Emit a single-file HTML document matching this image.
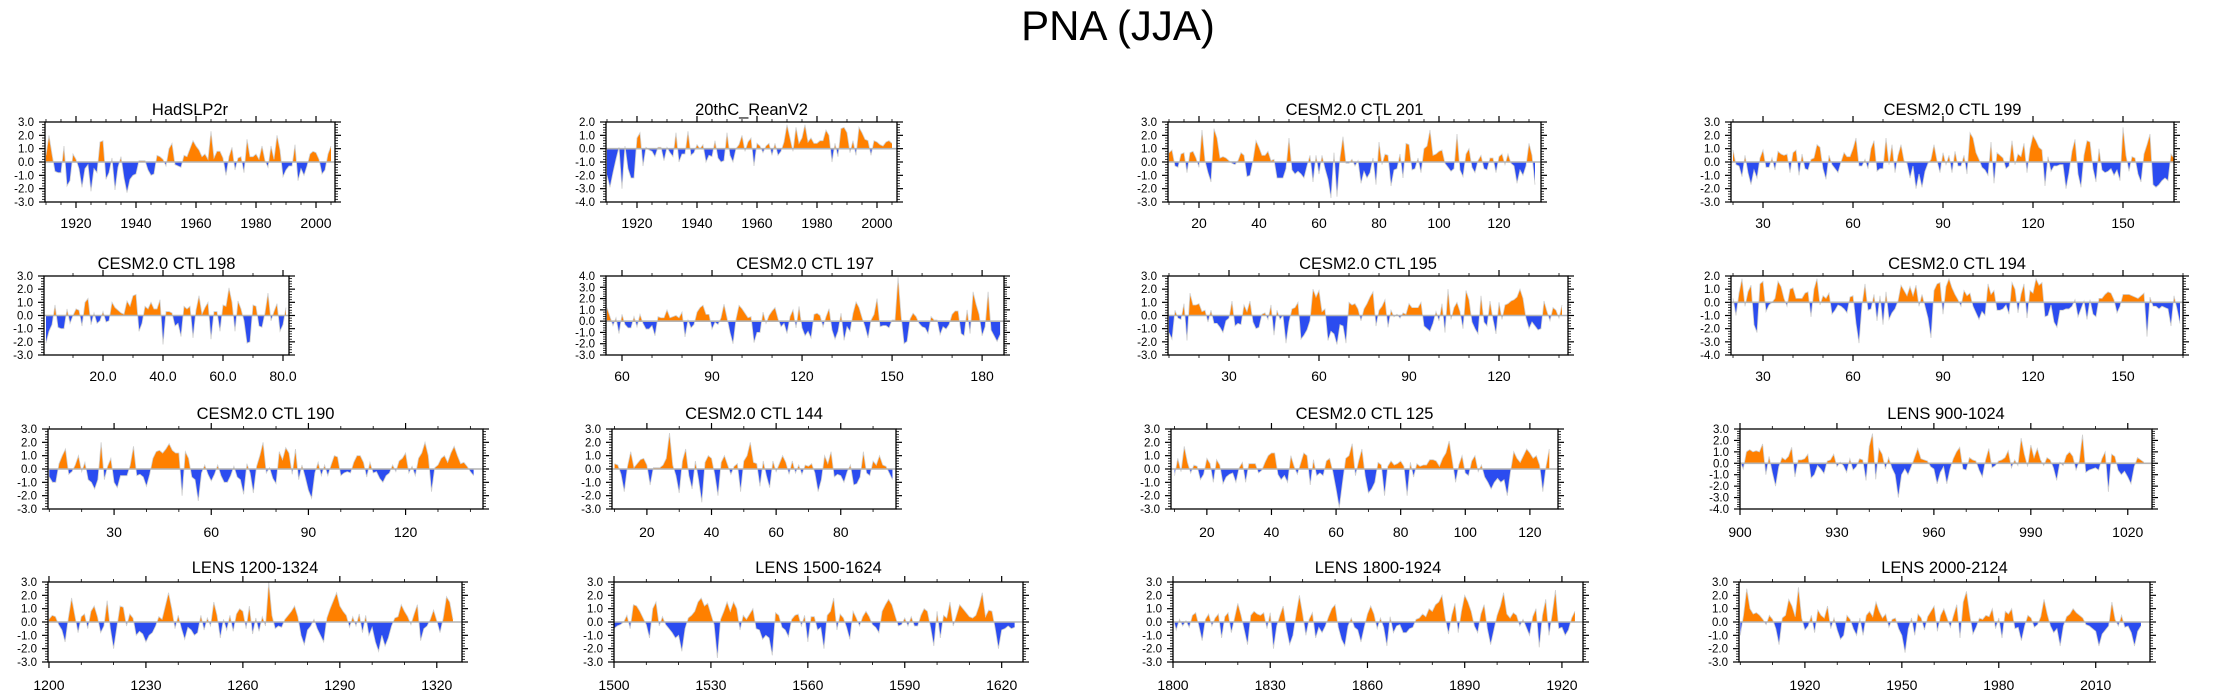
<!DOCTYPE html>
<html><head><meta charset="utf-8"><title>PNA (JJA)</title>
<style>
html,body{margin:0;padding:0;background:#fff;}
svg{display:block;font-family:"Liberation Sans",Arial,sans-serif;}
</style></head>
<body>
<svg id="chart" width="2237" height="698" viewBox="0 0 2237 698" xmlns="http://www.w3.org/2000/svg">
<rect x="0" y="0" width="2237" height="698" fill="#fff"/>
<text x="1118" y="40" font-size="42" text-anchor="middle" fill="#000">PNA (JJA)</text>
</svg>
<script>
const titles = ["HadSLP2r","20thC_ReanV2","CESM2.0 CTL 201","CESM2.0 CTL 199","CESM2.0 CTL 198","CESM2.0 CTL 197","CESM2.0 CTL 195","CESM2.0 CTL 194","CESM2.0 CTL 190","CESM2.0 CTL 144","CESM2.0 CTL 125","LENS 900-1024","LENS 1200-1324","LENS 1500-1624","LENS 1800-1924","LENS 2000-2124"];
const startYears = [1910,1910,10,20,1,55,10,20,10,10,10,900,1200,1500,1800,1900];
const yMaxes = [3,2,3,3,3,4,3,2,3,3,3,3,3,3,3,3];
const yMins = [-3,-4,-3,-3,-3,-3,-3,-4,-3,-3,-3,-4,-3,-3,-3,-3];

const s1 = [0.5,2.0,0.6,-0.7,-0.8,-0.8,1.2,-1.8,-1.4,0.6,
0.2,-0.5,-1.9,-0.5,-0.2,-2.2,-0.5,-0.8,1.5,1.6,
-1.3,-0.8,0.3,-2.1,-0.4,0.4,-1.2,-2.3,-1.3,-1.0,
-0.9,0.1,0.1,0.1,-0.6,-1.0,-0.9,0.5,0.4,0.2,
-0.3,1.0,1.4,-0.2,-0.3,-0.4,0.5,0.4,1.0,1.6,
1.2,0.9,0.4,0.6,0.2,2.3,0.3,0.8,0.8,0.3,
-1.0,0.4,1.1,-0.6,0.3,0.4,-0.8,1.7,0.4,0.4,
0.6,0.2,1.2,0.1,-0.4,1.2,0.2,2.0,0.9,-1.1,
-0.6,-0.3,-0.3,1.3,-1.4,-0.5,-1.0,-0.3,0.6,0.8,
0.7,0.2,-0.9,-0.6,0.6,1.2];
const s2 = [-2.0,-2.9,-1.8,-0.8,0.1,-3.0,0.2,-1.5,-2.2,-2.2,
0.8,1.2,-1.3,0.1,-0.1,-0.2,-0.6,0.1,0.1,-0.9,
0.1,-0.3,-0.6,1.2,-1.0,-0.4,-0.4,1.3,-0.5,-0.3,
0.3,0.0,0.3,-1.0,-0.5,-0.6,0.6,-0.7,-1.0,-0.9,
1.2,-0.5,-1.0,0.0,0.3,1.0,-0.2,0.5,0.8,-1.3,
0.4,0.2,-0.3,0.2,0.4,-0.5,0.4,-0.5,-0.2,0.5,
1.8,0.8,-0.2,1.6,0.4,0.8,1.8,0.5,0.8,0.4,
0.4,0.6,0.6,1.4,1.0,-1.0,0.4,-0.6,1.5,1.6,
1.2,-0.3,0.6,-0.5,1.6,1.2,0.7,0.6,-0.5,0.6,
0.5,0.3,0.2,0.5,0.6,0.4];
const s3 = [0.7,0.9,-0.3,-0.4,0.6,0.7,-0.8,0.7,0.8,0.3,
-0.4,2.4,0.1,-0.8,-1.5,2.5,1.8,0.3,0.4,0.3,
0.1,-0.1,-0.2,0.1,0.7,0.5,-1.1,-1.0,0.1,1.6,
1.1,0.5,0.5,0.8,0.1,0.2,-1.2,-1.2,-1.2,-0.5,
1.8,-0.6,-0.9,-0.7,-0.9,-1.2,-0.3,0.5,-1.5,0.5,
-0.9,0.5,-0.5,-1.3,-2.7,0.7,-2.6,0.3,1.9,-0.1,
-0.1,0.2,-0.3,0.1,-1.6,-0.7,-1.2,-0.8,0.3,-1.7,
1.5,-0.2,0.6,0.5,-1.8,-0.6,-0.5,0.6,-1.2,1.4,
1.3,-0.6,-0.5,0.3,-0.8,1.0,1.2,2.4,0.5,0.6,
0.8,0.9,-0.1,-0.4,-0.7,-0.5,2.1,-0.6,-1.1,0.6,
1.0,-0.4,-0.8,0.1,0.5,-0.5,-0.6,0.3,0.3,-0.8,
0.4,0.6,-0.2,0.6,-0.1,-0.3,-1.6,-0.6,-1.0,-0.3,
1.4,0.5,-1.7];
const s4 = [0.9,-0.2,-0.3,-1.1,0.5,-0.8,-1.7,-0.6,-1.2,0.3,
0.9,-0.4,-0.4,0.3,-0.6,0.8,0.6,0.5,0.6,-0.8,
0.7,0.9,-1.0,0.6,-0.5,-0.6,0.2,0.3,1.3,1.1,
-0.5,-1.3,0.5,-0.2,-0.5,-0.8,0.0,0.7,0.4,0.4,
1.0,1.8,-0.3,-0.3,0.2,-0.5,1.0,1.6,-0.7,-0.5,
-0.5,1.8,-0.2,1.3,-0.8,0.5,1.3,0.1,-0.1,-1.2,
-0.3,-2.0,-0.9,-1.9,-0.7,-0.1,0.2,1.3,0.1,-0.8,
0.7,-0.2,0.5,-0.8,0.8,-0.3,-0.3,0.5,-0.9,2.2,
1.8,0.7,0.2,-0.4,-0.6,-1.0,1.5,-1.6,0.7,0.5,
0.3,-0.5,-0.3,1.6,-0.2,0.6,0.4,1.4,-0.8,1.0,
2.0,1.6,1.1,0.9,-1.8,0.4,-0.7,-0.3,-0.3,-0.2,
-0.2,-2.0,-0.8,0.8,1.7,-0.9,-1.9,0.5,1.6,1.5,
-0.5,-1.5,1.0,-0.6,-0.8,-0.7,-0.5,-1.0,-0.6,-1.4,
2.6,0.5,-0.7,0.4,0.3,-0.9,-1.5,0.6,1.3,2.1,
-1.7,-1.9,-1.7,-1.4,-1.2,-1.4,0.6,0.3];
const s5 = [-2.1,-1.2,-0.7,0.8,-0.9,-1.0,-1.0,0.5,-0.6,0.0,
0.5,0.4,-0.8,1.0,1.3,-0.7,0.2,-0.6,-0.4,0.3,
-0.5,-0.4,1.0,0.6,0.4,0.2,0.1,1.1,0.7,1.5,
1.6,-1.2,-0.6,0.7,0.5,1.0,0.5,0.5,1.2,-2.2,
0.3,0.3,0.2,-0.8,-0.6,-1.6,0.7,0.5,0.7,-1.7,
0.4,1.5,0.1,0.6,1.0,-1.8,0.3,0.3,-1.2,0.8,
0.7,2.1,1.0,-1.2,1.1,0.5,-0.4,-2.1,-2.0,0.8,
0.7,-0.8,-0.9,0.2,1.7,-0.4,0.3,0.9,-1.2,-0.7,0.6];
const s6 = [1.2,0.4,-0.4,0.3,-1.1,
0.6,-0.3,-0.6,-0.6,0.4,-0.5,0.6,-0.2,-0.7,-0.7,
-0.4,-1.3,0.4,0.3,0.3,1.0,0.3,0.4,0.5,0.3,
0.8,-1.4,0.1,-0.6,-0.3,0.8,1.2,1.4,0.6,0.6,
-0.7,-0.1,-0.3,0.3,1.5,0.3,-1.0,-2.0,0.2,1.4,
1.1,0.7,0.3,0.4,-1.9,-1.0,-1.0,0.8,-0.2,0.5,
0.9,1.2,0.2,-0.5,-0.2,-1.1,0.4,1.0,-0.6,1.3,
-0.6,-1.3,-0.9,-1.5,0.6,0.7,0.5,-0.5,0.4,1.1,
-0.8,-1.6,-0.9,0.7,-1.7,-0.5,-0.9,0.7,1.7,1.2,
0.3,-0.5,-1.5,0.1,0.6,2.0,-0.5,-0.4,-0.4,-0.6,
0.1,0.1,3.9,0.5,-2.0,-1.8,0.2,0.7,0.4,-0.2,
-0.5,-0.6,-1.1,0.4,0.1,0.1,-1.2,-0.5,-0.7,-0.3,
0.6,0.9,0.9,-1.1,-1.3,1.0,-1.1,2.6,1.5,0.6,
-1.3,-0.5,2.6,-0.8,-1.3,-1.8,-1.2];
const s7 = [-1.3,-1.8,0.4,-0.2,-0.3,0.9,-1.9,1.7,0.8,0.8,
0.9,0.3,0.4,-0.5,0.4,-0.6,-0.6,-0.9,-1.3,-0.4,
-0.2,1.1,-0.8,-0.6,-0.7,0.8,0.3,1.1,-0.5,-1.0,
-0.9,0.1,0.2,-0.3,0.8,-1.5,0.4,-0.3,0.0,-2.1,
-0.5,0.5,0.6,1.0,-1.8,-1.5,-1.1,-0.4,2.0,1.4,
1.9,0.3,0.5,-1.9,-1.2,-1.4,-2.2,-0.7,-0.8,-2.1,
1.0,0.8,0.9,0.5,-0.4,0.5,0.9,1.4,1.8,-0.8,
0.4,0.7,1.2,-0.9,0.4,-0.1,0.1,-0.2,0.2,0.1,
0.9,0.6,0.6,0.6,1.0,-0.8,-1.0,-1.2,-0.6,0.3,
-0.4,0.9,-1.3,2.0,-0.3,0.6,1.0,0.3,-1.0,1.9,
1.2,-0.5,-1.0,-1.4,1.5,-0.5,-0.8,1.1,-0.3,-1.4,
1.0,-0.3,0.8,0.9,1.1,1.2,1.4,2.0,1.3,-0.2,
-1.0,-0.5,-0.8,-1.1,-1.0,1.1,0.3,-0.4,0.6,0.4,
-0.2,0.8];
const s8 = [0.3,-1.0,0.7,1.8,-0.3,0.8,1.3,-1.7,-2.3,1.4,
1.6,-0.7,-0.2,0.0,0.3,1.6,1.2,0.3,-0.3,1.0,
1.1,0.3,0.3,0.3,0.7,0.8,-1.1,1.0,1.8,-0.2,
0.5,0.3,0.7,-0.9,-0.6,-0.2,-0.3,-0.5,-0.8,0.4,
0.5,-1.6,-3.1,-0.2,1.4,-0.6,-0.5,0.6,-1.4,0.5,
-1.7,0.8,-1.3,-0.8,-0.5,0.1,1.3,0.9,0.5,1.2,
0.5,1.3,-0.3,0.6,-0.3,-1.2,-2.7,0.9,1.4,1.5,
-0.9,1.2,1.8,1.1,0.6,0.2,-0.3,0.9,0.5,0.7,
-0.3,-0.8,-1.3,-0.7,-1.0,1.4,0.6,0.9,-0.6,-0.6,
-0.5,-0.2,-0.9,1.5,1.0,-0.8,0.6,1.4,-1.2,0.9,
0.7,1.8,1.3,1.5,-1.1,-1.0,-0.2,-1.5,-1.9,-0.6,
-0.6,-0.5,-0.5,-0.3,0.2,-1.1,-0.5,0.1,-1.3,0.2,
-0.9,-1.1,0.3,0.3,0.6,0.8,0.7,0.2,-0.8,-0.3,
0.6,0.6,0.6,0.5,0.4,0.3,0.5,0.7,-2.6,0.4,
-0.3,-0.3,-0.5,-0.3,-0.4,-0.5,-1.8,0.5,-0.5,-1.6];
const s9 = [-0.6,-1.0,-1.0,0.4,1.0,1.5,-0.4,-0.2,0.3,1.0,
-0.2,0.5,-0.8,-1.0,-1.5,-0.8,2.0,-0.8,0.2,0.8,
-1.0,-1.4,-0.5,-0.5,-0.5,0.3,1.7,-0.5,-0.4,-0.6,
-1.3,-0.4,0.8,1.3,1.4,1.2,1.5,1.9,1.4,1.2,
1.2,-2.0,1.3,0.8,-0.6,-0.8,-2.4,-0.3,0.3,-0.4,
-0.9,-0.4,0.3,-0.5,-1.0,-1.0,-0.5,0.2,-0.6,-0.8,
-1.9,0.4,-0.3,-1.8,0.2,1.0,2.0,-0.3,0.1,-0.7,
-1.1,1.3,0.7,1.6,1.2,-0.4,1.5,-0.8,0.3,-0.6,
-1.6,-2.2,-0.3,0.5,-0.5,0.3,-0.5,0.3,1.0,0.9,
-0.5,-0.3,-0.2,-0.3,0.5,1.0,1.0,0.5,-0.6,0.5,
-0.3,-0.2,-0.7,-1.0,-0.5,-0.3,0.3,-0.2,0.6,0.8,
1.2,-0.3,0.2,-0.5,0.8,1.2,2.0,1.0,-1.7,0.1,
0.3,0.8,1.0,0.5,1.2,1.7,1.0,0.4,0.5,0.2,
-0.2,-0.5];
const s10 = [0.4,0.3,-0.4,-1.7,0.2,1.3,0.1,0.4,0.7,0.8,
0.3,-1.2,0.1,0.1,0.1,0.3,0.8,2.7,0.3,-0.5,
-1.8,0.6,1.5,-0.5,-1.5,0.6,-0.8,-2.5,0.5,1.0,
0.8,-0.4,-2.0,0.5,1.0,0.3,-0.4,0.2,0.4,-1.7,
0.6,1.0,2.0,0.5,0.4,-1.3,0.6,-0.5,-1.4,0.6,
-0.2,0.4,1.0,0.5,-0.4,0.6,-0.3,0.3,-0.4,0.3,
0.2,0.4,-0.3,-1.7,-0.8,1.0,0.4,1.3,-0.6,-0.4,
-0.5,-1.0,-0.2,0.3,-1.2,-1.1,-0.6,1.3,-0.3,-0.5,
0.6,0.3,1.0,0.3,0.2,-0.3,-0.8];
const s11 = [-0.5,0.8,-0.2,1.7,0.5,-0.3,0.3,0.2,-0.8,-0.4,
0.8,0.4,-1.0,0.7,0.3,-1.1,-0.6,-0.4,-0.3,-1.0,
0.1,0.5,-1.0,0.4,0.4,0.4,-0.3,-0.1,0.5,1.0,
1.2,1.2,-0.4,-0.8,-0.5,-1.0,1.0,0.2,-0.4,0.4,
1.2,1.0,-1.2,0.7,-0.5,-0.3,-0.5,0.6,0.8,-0.2,
-1.5,-2.9,-1.0,0.8,1.0,1.9,-0.5,0.6,1.5,-0.5,
-1.8,-1.5,-1.0,0.5,0.3,-2.0,0.2,0.6,0.3,0.4,
0.6,0.2,-2.0,0.5,-0.6,0.4,0.2,0.3,0.3,0.7,
0.7,0.6,0.2,0.8,1.2,2.1,0.6,-1.0,0.3,1.0,
-0.3,-0.5,0.6,1.0,-0.2,0.3,-0.6,-1.0,-1.5,-1.0,
-0.7,-1.0,-0.8,-2.0,-0.2,1.3,0.8,0.5,1.0,1.5,
1.2,0.8,1.0,0.3,-1.7,0.2,1.5];
const s12 = [0.2,-0.5,1.0,1.2,1.0,1.1,1.0,1.7,-1.0,0.6,
-0.8,-2.0,-0.3,0.5,0.3,0.6,1.4,-1.2,0.3,0.3,
0.4,0.8,-1.3,-1.0,-0.2,-0.5,-0.9,0.2,0.3,0.8,
-0.3,0.1,-0.2,-0.8,0.4,-0.6,-0.3,0.4,0.3,-1.5,
1.5,2.6,-1.4,1.3,0.8,-0.5,0.5,-0.4,-1.0,-3.0,
-1.0,-0.5,-1.0,-0.3,0.5,1.3,0.4,0.3,0.2,-0.3,
-0.5,-1.8,-0.8,-0.3,-1.8,-0.5,0.4,1.0,1.4,-0.5,
-0.6,0.5,0.3,0.2,-0.6,-1.2,0.3,1.3,-0.4,-0.2,
0.2,0.3,0.5,1.1,-0.4,0.3,-0.2,2.2,0.8,-0.3,
1.6,0.5,1.3,0.3,-0.2,0.5,0.3,-0.4,-1.5,0.1,
-0.2,0.7,1.0,0.6,-0.6,0.2,2.5,-0.8,-0.6,-0.5,
-0.4,-0.6,0.4,1.0,-2.5,0.8,0.6,-0.6,-1.0,-0.7,
-1.2,-1.8,-0.3,0.5,0.3,0.1];
const s13 = [0.2,0.5,0.4,-0.2,-0.6,-1.5,0.3,1.8,0.5,-0.8,
0.4,0.6,-0.5,0.8,1.2,0.4,-0.8,-0.3,1.6,-0.5,
-2.0,-0.4,1.2,1.1,-0.3,0.6,0.3,-1.0,-0.7,-0.9,
-1.5,-1.0,-0.8,-0.3,0.4,0.2,1.2,2.2,1.0,-0.5,
0.5,-0.5,-1.3,-0.4,-0.6,-1.0,-0.8,0.5,-0.6,0.3,
-0.3,1.5,0.5,-1.2,0.2,-0.6,0.5,-0.7,0.6,1.0,
0.8,-0.5,1.2,-0.9,0.3,-0.7,0.4,-0.3,3.0,0.5,
-0.5,-0.3,-0.4,0.2,0.5,0.8,1.2,0.4,-1.0,-1.7,
-0.6,-0.3,0.2,-0.5,-1.0,-1.5,0.3,1.0,1.6,2.2,
1.2,0.8,0.5,-0.4,0.4,-0.3,0.6,-0.8,0.5,-1.0,
-0.4,-1.5,-2.2,-1.0,-1.8,-1.2,-0.3,0.3,0.4,1.3,
0.8,0.4,-0.2,0.6,1.3,-1.4,-0.5,-0.3,0.2,0.9,
0.1,-0.8,0.3,1.9,1.5,0.2];
const s14 = [-0.5,-0.3,-0.2,0.0,0.5,-0.5,1.3,1.2,0.8,0.3,
-0.2,-1.2,1.0,1.5,-0.3,0.4,-0.2,-0.5,-0.8,-1.2,
-1.0,-2.2,-0.5,0.3,0.5,0.8,1.5,1.8,1.2,1.4,
0.6,-0.2,-2.7,0.2,0.8,1.5,0.8,1.5,1.0,-0.6,
0.5,0.2,0.6,1.0,-0.5,-0.6,-1.3,-1.0,-1.2,-2.5,
0.7,0.5,-0.4,-0.6,-1.1,0.2,0.5,0.6,-0.3,0.5,
-1.5,0.4,0.4,-0.6,-0.4,-2.0,0.5,0.8,1.8,-0.6,
0.6,0.3,-0.4,-1.3,0.8,0.3,-0.3,0.4,0.8,0.4,
-0.2,-0.4,-0.8,0.8,1.3,1.7,1.3,0.5,-0.3,-0.2,
0.3,-0.3,0.4,-0.3,-0.3,0.5,1.0,0.8,-0.4,-1.8,
0.8,-1.2,0.5,0.3,1.5,-0.3,0.5,1.3,1.0,0.7,
0.4,0.3,0.5,1.2,2.2,0.4,0.9,0.8,-0.5,-2.0,
-0.6,-0.5,-0.3,-0.5,-0.4];
const s15 = [0.3,-0.6,0.2,-0.3,0.1,-0.4,0.5,0.7,-0.3,-1.4,
0.2,0.6,-0.3,0.3,0.6,-1.2,0.4,0.7,-0.8,0.3,
1.4,0.5,-0.6,-1.7,0.5,0.8,0.6,0.5,0.7,-0.5,
0.7,-2.0,-0.3,0.5,1.2,-0.5,-1.7,-1.0,0.6,2.0,
0.6,-1.0,0.2,0.7,-1.2,-0.4,-0.8,-0.3,0.4,1.0,
1.3,-0.4,-1.3,-1.8,-0.3,0.3,-0.4,-0.6,-1.5,-0.4,
0.6,1.2,0.6,-0.5,0.3,-0.4,-1.8,0.4,-0.8,-0.3,
-0.2,-0.8,-0.8,-0.5,-0.4,0.2,0.3,0.6,0.4,1.0,
0.8,1.3,1.5,2.0,0.3,-0.9,0.5,1.4,-0.8,0.8,
2.0,1.5,0.8,-0.3,-0.8,0.6,1.3,-0.5,-1.7,-0.6,
0.5,1.2,2.2,0.6,0.3,0.7,0.5,-0.3,0.2,-0.4,
-1.0,0.4,1.0,-1.9,0.5,1.7,-1.0,0.6,2.4,-0.5,
-0.4,-1.0,-0.6,0.3,0.8];
const s16 = [-1.0,0.5,2.5,1.0,0.6,0.7,0.5,0.2,-0.2,0.5,
0.2,-0.5,-1.7,0.3,0.5,1.7,1.2,0.4,2.6,0.3,
-0.6,-0.3,0.5,-0.8,0.9,0.5,0.3,1.2,-0.5,0.3,
-0.6,-1.3,-1.0,0.5,0.2,-0.5,-1.0,0.3,-1.0,0.5,
0.8,0.4,1.5,0.8,0.3,0.6,-0.4,0.2,0.3,-0.5,
-1.0,-2.3,-0.5,0.3,-1.0,0.6,0.3,-0.6,0.4,0.8,
1.2,-0.7,0.5,1.0,0.3,-0.4,0.5,1.3,-1.2,1.5,
2.3,0.6,-0.9,-0.4,0.3,0.2,0.5,0.4,1.0,-0.5,
0.3,-1.2,0.8,0.6,1.0,-0.5,-0.4,-1.4,-0.3,0.5,
0.3,-0.4,-0.2,0.4,1.7,0.6,-0.3,-0.8,-0.5,-1.8,
-0.3,0.4,0.6,1.0,0.7,0.5,0.3,-0.2,-0.3,-0.5,
-0.7,-1.8,-0.9,-0.6,-0.3,1.5,0.2,-0.3,0.5,-0.4,
-0.3,-0.8,-1.8,-0.7,-0.3];
const seriesList = [s1,s2,s3,s4,s5,s6,s7,s8,s9,s10,s11,s12,s13,s14,s15,s16];

// layout (pixel geometry, not data)
const rowTop = [122,276,429,582];
const rowBot = [202,355,509,662];
const rowTitleY = [115,269,419,573];
const rowLabelY = [228,381,537,690];
const layout = [
 {r:0,L:45,R:335,xmin:1909.67,xmax:2006.33,maj:20,mn:5},
 {r:0,L:606,R:897,xmin:1909.67,xmax:2006.67,maj:20,mn:5},
 {r:0,L:1168,R:1541,xmin:9.67,xmax:134,maj:20,mn:5},
 {r:0,L:1731,R:2174,xmin:19.33,xmax:167,maj:30,mn:10},
 {r:1,L:44,R:289,xmin:0.33,xmax:82,maj:20,mn:10,dec:true},
 {r:1,L:606,R:1004,xmin:54.67,xmax:187.3,maj:30,mn:10},
 {r:1,L:1168,R:1568,xmin:9.67,xmax:143,maj:30,mn:10},
 {r:1,L:1731,R:2183,xmin:19.33,xmax:170,maj:30,mn:10},
 {r:2,L:48,R:483,xmin:9.6,xmax:143.9,maj:30,mn:10},
 {r:2,L:612,R:896,xmin:9.2,xmax:97.1,maj:20,mn:10},
 {r:2,L:1171,R:1558,xmin:8.9,xmax:128.7,maj:20,mn:10},
 {r:2,L:1740,R:2152,xmin:900,xmax:1027.5,maj:30,mn:10},
 {r:3,L:48,R:462,xmin:1199.7,xmax:1327.8,maj:30,mn:10},
 {r:3,L:614,R:1023,xmin:1500,xmax:1626.6,maj:30,mn:10},
 {r:3,L:1173,R:1583,xmin:1800,xmax:1926.5,maj:30,mn:10},
 {r:3,L:1739,R:2150,xmin:1899.6,xmax:2026.8,maj:30,mn:10}
];

const NS = "http://www.w3.org/2000/svg";
const svg = document.getElementById('chart');
function mk(tag, attrs, parent){
  const e = document.createElementNS(NS, tag);
  for (const k in attrs) e.setAttribute(k, attrs[k]);
  (parent||svg).appendChild(e);
  return e;
}

layout.forEach((c, i) => {
  const T = rowTop[c.r], B = rowBot[c.r], L = c.L, R = c.R;
  const ymax = yMaxes[i], ymin = yMins[i];
  const sx = v => L + (v - c.xmin) / (c.xmax - c.xmin) * (R - L);
  const sy = v => T + (ymax - v) / (ymax - ymin) * (B - T);
  const g = mk('g', {});
  
  

  const defs = mk('defs', {}, g);
  const z = sy(0);
  const cpA = mk('clipPath', {id:'ca'+i}, defs);
  mk('rect', {x:L, y:T, width:R-L, height:z-T}, cpA);
  const cpB = mk('clipPath', {id:'cb'+i}, defs);
  mk('rect', {x:L, y:z, width:R-L, height:B-z}, cpB);
  const cpBox = mk('clipPath', {id:'cx'+i}, defs);
  mk('rect', {x:L, y:T, width:R-L, height:B-T}, cpBox);

  const vals = seriesList[i];
  const st = startYears[i];
  let d = 'M' + sx(st).toFixed(2) + ',' + z.toFixed(2);
  let line = '';
  vals.forEach((v, k) => {
    const px = sx(st + k).toFixed(2), py = sy(v).toFixed(2);
    d += ' L' + px + ',' + py;
    line += (k ? ' L' : 'M') + px + ',' + py;
  });
  d += ' L' + sx(st + vals.length - 1).toFixed(2) + ',' + z.toFixed(2) + ' Z';

  const dg = mk('g', {'clip-path':'url(#cx'+i+')'}, g);
  const pos = mk('path', {d:d, fill:'#ff8000', 'clip-path':'url(#ca'+i+')'}, dg);
  
  
  const neg = mk('path', {d:d, fill:'#2b4cf0', 'clip-path':'url(#cb'+i+')'}, dg);
  
  
  const ln = mk('path', {d:line, fill:'none', stroke:'#cfcfcf', 'stroke-width':0.8}, dg);
  
  
  const zl = mk('line', {x1:L, x2:R, y1:z, y2:z, stroke:'#b4b4b4', 'stroke-width':1.6}, g);
  
  

  for (let v = ymin; v <= ymax + 1e-6; v += 0.2) {
    const vv = Math.round(v * 10) / 10;
    const y = sy(vv);
    const major = Math.abs(vv - Math.round(vv)) < 1e-6;
    const len = major ? 6 : 3;
    mk('line', {x1:L-len, x2:L, y1:y, y2:y, stroke:'#000', 'stroke-width':major?1.2:0.8}, g);
    mk('line', {x1:R, x2:R+len, y1:y, y2:y, stroke:'#000', 'stroke-width':major?1.2:0.8}, g);
    if (major) {
      const t = mk('text', {x:L-11, y:y+4, 'font-size':11.5, 'text-anchor':'end', fill:'#000'}, g);
      
      
      t.textContent = vv.toFixed(1);
    }
  }
  for (let v = Math.ceil(c.xmin / c.mn) * c.mn; v <= c.xmax; v += c.mn) {
    const x = sx(v);
    const major = v % c.maj === 0;
    const len = major ? 6 : 3;
    mk('line', {x1:x, x2:x, y1:B, y2:B+len, stroke:'#000', 'stroke-width':major?1.2:0.8}, g);
    mk('line', {x1:x, x2:x, y1:T-len, y2:T, stroke:'#000', 'stroke-width':major?1.2:0.8}, g);
    if (major) {
      const t = mk('text', {x:x, y:rowLabelY[c.r], 'font-size':14, 'text-anchor':'middle', fill:'#000'}, g);
      
      
      t.textContent = c.dec ? v.toFixed(1) : String(v);
    }
  }
  const box = mk('rect', {x:L, y:T, width:R-L, height:B-T, fill:'none', stroke:'#000', 'stroke-width':1.3}, g);
  
  
  const tt = mk('text', {x:(L+R)/2, y:rowTitleY[c.r], 'font-size':16.5, 'text-anchor':'middle', fill:'#000'}, g);
  
  
  tt.textContent = titles[i];
});
</script>
</body></html>
